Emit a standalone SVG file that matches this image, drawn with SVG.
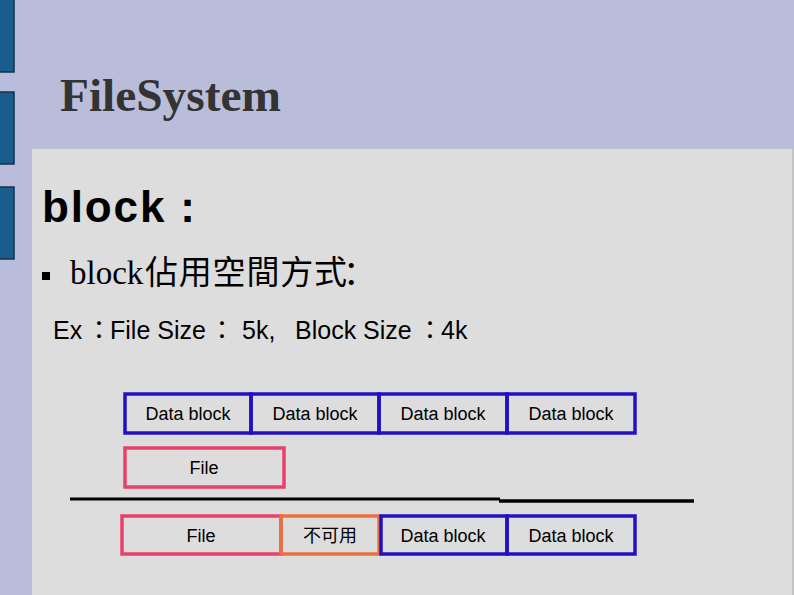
<svg xmlns="http://www.w3.org/2000/svg" width="794" height="595" viewBox="0 0 794 595">
<style>
.bar{fill:#1B5C8E;stroke:#10304F;stroke-width:1.5}
.lbl{font-family:"Liberation Sans",Arial,"Noto Sans CJK TC",sans-serif;font-size:18px;fill:#000;text-anchor:middle}
.db{fill:none;stroke:#2410C0;stroke-width:3.5}
.fl{fill:none;stroke:#E8406A;stroke-width:3.5}
.na{fill:none;stroke:#EB7040;stroke-width:3.5}
</style>
<rect x="0" y="0" width="794" height="595" fill="#B9BDD9"/>
<rect x="32" y="149" width="762" height="446" fill="#DDDDDD"/>
<rect x="792" y="149" width="2" height="446" fill="#C4C4C4"/>
<rect class="bar" x="-1" y="-1" width="15" height="73"/>
<rect class="bar" x="-1" y="92" width="15" height="72"/>
<rect class="bar" x="-1" y="187" width="15" height="72"/>
<text x="60" y="111" font-family="'Liberation Serif','Times New Roman',serif" font-weight="bold" font-size="46" fill="#333333" textLength="221" lengthAdjust="spacingAndGlyphs">FileSystem</text>
<text x="42" y="222" font-family="'Liberation Sans',Arial,sans-serif" font-weight="bold" font-size="44" fill="#000" textLength="153">block :</text>
<rect x="42" y="272" width="8" height="8" fill="#000"/>
<text y="284" font-family="'Liberation Serif','Noto Sans CJK TC',serif" font-size="33" fill="#000"><tspan x="70">block</tspan><tspan x="145" textLength="202">佔用空間方式</tspan><tspan x="343" font-family="'Noto Sans CJK SC',sans-serif">：</tspan></text>
<text y="339" font-family="'Liberation Sans',Arial,'Noto Sans CJK TC',sans-serif" font-size="25" fill="#000"><tspan x="53">Ex</tspan><tspan x="86.5">：</tspan><tspan x="110">File Size</tspan><tspan x="209.5">：</tspan><tspan x="242">5k,</tspan><tspan x="295">Block Size</tspan><tspan x="417.5">：</tspan><tspan x="441">4k</tspan></text>
<g id="top-row">
<g id="db1"><rect class="db" x="125" y="394" width="126" height="39"/><text class="lbl" x="188" y="420">Data block</text></g>
<g id="db2"><rect class="db" x="251" y="394" width="128" height="39"/><text class="lbl" x="315" y="420">Data block</text></g>
<g id="db3"><rect class="db" x="379" y="394" width="128" height="39"/><text class="lbl" x="443" y="420">Data block</text></g>
<g id="db4"><rect class="db" x="507" y="394" width="128" height="39"/><text class="lbl" x="571" y="420">Data block</text></g>
</g>
<g id="file1"><rect class="fl" x="125" y="448" width="159" height="39"/><text class="lbl" x="204" y="474">File</text></g>
<g id="divider">
<line x1="70" y1="499" x2="500" y2="499" stroke="#000" stroke-width="3"/>
<line x1="499" y1="501" x2="694" y2="501" stroke="#000" stroke-width="3.5"/>
</g>
<g id="bottom-row">
<g id="file2"><rect class="fl" x="122" y="516" width="159" height="38"/><text class="lbl" x="201" y="542">File</text></g>
<g id="unusable"><rect class="na" x="281" y="516" width="98" height="38"/><text class="lbl" x="330" y="542">不可用</text></g>
<g id="db5"><rect class="db" x="381" y="516" width="126" height="38"/><text class="lbl" x="443" y="542">Data block</text></g>
<g id="db6"><rect class="db" x="507" y="516" width="128" height="38"/><text class="lbl" x="571" y="542">Data block</text></g>
</g>
</svg>
